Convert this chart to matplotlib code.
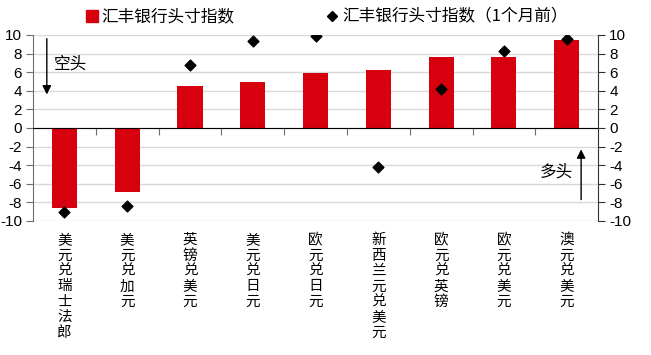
import matplotlib.pyplot as plt
from matplotlib.lines import Line2D
from matplotlib.transforms import blended_transform_factory
import numpy as np

plt.rcParams['font.family'] = ['Liberation Sans', 'Noto Sans CJK SC', 'DejaVu Sans']
plt.rcParams['axes.unicode_minus'] = False

# data
pairs = ['美元兑瑞士法郎', '美元兑加元', '英镑兑美元', '美元兑日元', '欧元兑日元',
         '新西兰元兑美元', '欧元兑英镑', '欧元兑美元', '澳元兑美元']
index_now = [-8.6, -6.9, 4.55, 4.95, 5.9, 6.2, 7.6, 7.6, 9.45]
index_1m_ago = [-9.0, -8.35, 6.8, 9.3, 9.85, -4.15, 4.2, 8.3, 9.6]
yticks = list(range(-10, 11, 2))

red = '#d7000f'
axis_grey = '#6e6e6e'
cjk = ['Noto Sans CJK SC', 'DejaVu Sans']
x = np.arange(len(pairs))

fig = plt.figure(figsize=(6.51, 3.55), dpi=100)
ax = fig.add_axes([0.0507, 0.3775, 0.868, 0.524])

ax.bar(x, index_now, width=0.4, color=red, zorder=3)
ax.scatter(x, index_1m_ago, marker='D', s=30, color='black', zorder=4)

ax.set_xlim(-0.5, len(pairs) - 0.5)
ax.set_ylim(-10, 10)
ax.set_yticks(yticks)
ax.yaxis.grid(True, color='#d9d9d9', lw=1, zorder=0)
ax.tick_params(axis='y', labelsize=11, length=5, pad=3, direction='out', color=axis_grey)
ax.spines['left'].set_color(axis_grey)

ax.spines['top'].set_visible(False)
ax.spines['right'].set_visible(False)
ax.spines['bottom'].set_position(('data', 0))
ax.spines['bottom'].set_zorder(5)
ax.set_xticks(x[:-1] + 0.5)
ax.tick_params(axis='x', length=5, direction='out', labelbottom=False, color=axis_grey)

ax2 = ax.twinx()
ax2.set_ylim(-10, 10)
ax2.set_yticks(yticks)
ax2.tick_params(axis='y', labelsize=11, length=5, pad=3, color='#333333')
ax2.spines['right'].set_color('#333333')
for s in ['top', 'left', 'bottom']:
    ax2.spines[s].set_visible(False)

# vertical category labels under the plot
trans = blended_transform_factory(ax.transData, ax.transAxes)
for xi, name in zip(x, pairs):
    ax.text(xi, -0.065, '\n'.join(name), transform=trans, ha='center', va='top',
            fontsize=10.5, linespacing=1.13, family=cjk)

# arrows
ax.annotate('', xy=(-0.28, 3.3), xytext=(-0.28, 9.9),
            arrowprops=dict(arrowstyle='-|>', color='black', lw=1, mutation_scale=13))
ax.text(0.1, 6.85, '空头', ha='center', va='center', fontsize=12, family=cjk)
ax.annotate('', xy=(8.23, -2.0), xytext=(8.23, -8.0),
            arrowprops=dict(arrowstyle='-|>', color='black', lw=1, mutation_scale=13))
ax.text(7.84, -4.75, '多头', ha='center', va='center', fontsize=12, family=cjk)

handles = [Line2D([], [], marker='s', ls='none', color=red, markersize=9),
           Line2D([], [], marker='D', ls='none', color='black', markersize=5.5)]
ax.legend(handles, ['汇丰银行头寸指数', '汇丰银行头寸指数（1个月前）'], ncol=2,
          loc='lower center', bbox_to_anchor=(0.52, 0.97), frameon=False,
          columnspacing=5.5, handlelength=0.7, handletextpad=0.25,
          prop={'family': cjk, 'size': 12})

fig.savefig('out.png', dpi=100)
